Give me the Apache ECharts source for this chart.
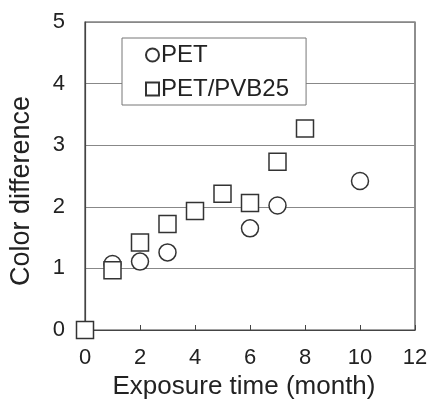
<!DOCTYPE html>
<html>
<head>
    <meta charset="utf-8">
    <title>Color difference</title>
    <script src="https://cdn.jsdelivr.net/npm/echarts@6/dist/echarts.min.js"></script>
    <style>
        html, body { margin: 0; padding: 0; background: #fff; }
        #main { width: 430px; height: 401px; }
    </style>
</head>
<body>
    <div id="main"></div>
    <script type="text/javascript">
    // data: [month, color difference]
    var petData = [[1, 1.07], [2, 1.11], [3, 1.26], [6, 1.65], [7, 2.02], [10, 2.42]];
    var pvbData = [[0, 0], [1, 0.97], [2, 1.42], [3, 1.72], [4, 1.93], [5, 2.21], [6, 2.06], [7, 2.73], [8, 3.27]];
    var seriesNames = ['PET', 'PET/PVB25'];
    var xTicks = [0, 2, 4, 6, 8, 10, 12];
    var yTicks = [0, 1, 2, 3, 4, 5];

    var font = 'Liberation Sans, Arial, sans-serif';
    var ink = '#222';

    var chart = echarts.init(document.getElementById('main'), null, {renderer: 'canvas'});
    chart.setOption({
        animation: false,
        backgroundColor: '#fff',
        textStyle: { fontFamily: font },
        grid: {
            left: 85, right: 15, top: 22, bottom: 71,
            containLabel: false, outerBoundsMode: 'none',
            show: true, borderColor: '#444', borderWidth: 1.2
        },
        legend: {
            orient: 'vertical',
            left: 122, top: 38,
            padding: [5, 17, 4, 23],
            itemGap: 10,
            itemWidth: 13, itemHeight: 13,
            backgroundColor: '#fff',
            borderColor: '#777', borderWidth: 1,
            textStyle: { fontSize: 24, color: ink, fontFamily: font, padding: [0, 0, 0, -3] },
            data: seriesNames
        },
        xAxis: {
            type: 'value',
            min: xTicks[0], max: xTicks[xTicks.length - 1], interval: 2,
            name: 'Exposure time (month)',
            nameLocation: 'middle', nameGap: 44,
            nameTextStyle: { fontSize: 26, color: ink, fontFamily: font, padding: [0, 12, 0, 0] },
            axisLine: { lineStyle: { color: '#444', width: 1.2 } },
            axisTick: { inside: true, length: 5, lineStyle: { color: '#444' } },
            axisLabel: { fontSize: 22, color: ink, margin: 17, fontFamily: font },
            splitLine: { show: false }
        },
        yAxis: {
            type: 'value',
            min: yTicks[0], max: yTicks[yTicks.length - 1], interval: 1,
            name: 'Color difference',
            nameLocation: 'middle', nameGap: 50,
            nameTextStyle: { fontSize: 27, color: ink, fontFamily: font, padding: [0, 30, 0, 0] },
            axisLine: { lineStyle: { color: '#444', width: 1.2 } },
            axisTick: { show: false },
            axisLabel: { fontSize: 22, color: ink, margin: 20, fontFamily: font },
            splitLine: { lineStyle: { color: '#888', width: 1 } }
        },
        series: [
            {
                name: seriesNames[0], type: 'scatter', data: petData,
                symbol: 'circle', symbolSize: 17, z: 3,
                itemStyle: { color: '#fff', borderColor: '#333', borderWidth: 1.5, opacity: 1 }
            },
            {
                name: seriesNames[1], type: 'scatter', data: pvbData,
                symbol: 'rect', symbolSize: 17, z: 4,
                itemStyle: { color: '#fff', borderColor: '#333', borderWidth: 1.5, opacity: 1 }
            }
        ]
    });
    </script>
</body>
</html>
